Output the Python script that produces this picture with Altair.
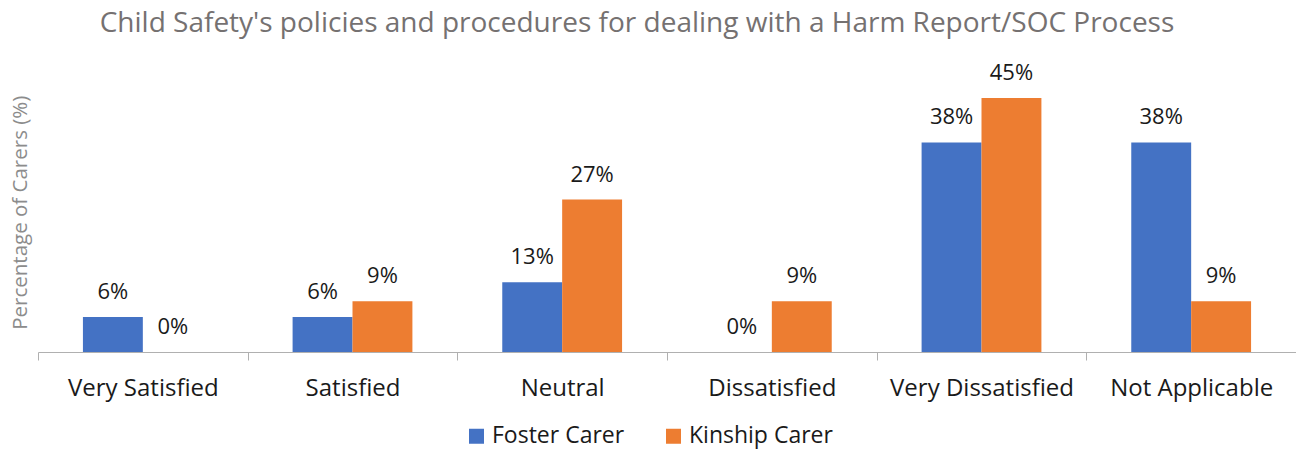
import altair as alt
import pandas as pd

categories = ["Very Satisfied", "Satisfied", "Neutral", "Dissatisfied",
              "Very Dissatisfied", "Not Applicable"]
series = ["Foster Carer", "Kinship Carer"]
foster = [6.25, 6.25, 12.5, 0.0, 37.5, 37.5]
kinship = [0.0, 9.09, 27.27, 9.09, 45.45, 9.09]
foster_labels = ["6%", "6%", "13%", "0%", "38%", "38%"]
kinship_labels = ["0%", "9%", "27%", "9%", "45%", "9%"]
colors = ["#4472C4", "#ED7D31"]

rows = []
for c, v, l in zip(categories, foster, foster_labels):
    rows.append({"category": c, "series": series[0], "value": v, "label": l})
for c, v, l in zip(categories, kinship, kinship_labels):
    rows.append({"category": c, "series": series[1], "value": v, "label": l})
df = pd.DataFrame(rows)

FONT = "Open Sans"

x_enc = alt.X(
    "category:N", sort=categories,
    scale=alt.Scale(paddingInner=0, paddingOuter=0),
    axis=alt.Axis(title=None, labelAngle=0, labelFontSize=24, labelFont=FONT,
                  labelColor="#1a1a1a", domainColor="#B0B0B0", tickColor="#B0B0B0",
                  tickSize=8, tickBand="extent", labelPadding=16, grid=False,
                  labelLimit=400),
)
xo_enc = alt.XOffset("series:N", sort=series,
                     scale=alt.Scale(paddingInner=0, paddingOuter=0.75))
y_enc = alt.Y(
    "value:Q", scale=alt.Scale(domain=[0, 50]),
    axis=alt.Axis(title="Percentage of Carers (%)", labels=False, ticks=False,
                  domain=False, grid=False, titleFontSize=20.5, titleFont=FONT,
                  titleColor="#8c8c8c", titleFontWeight="normal", titlePadding=8),
)

base = alt.Chart(df)
bars = base.mark_bar().encode(
    x=x_enc, xOffset=xo_enc, y=y_enc,
    color=alt.Color("series:N", sort=series,
                    scale=alt.Scale(domain=series, range=colors),
                    legend=alt.Legend(title=None, orient="none", direction="horizontal",
                                      legendX=427, legendY=352,
                                      symbolType="square", symbolSize=225,
                                      symbolStrokeWidth=0, labelFontSize=23,
                                      labelFont=FONT, labelColor="#1a1a1a",
                                      labelOffset=4, columnPadding=37)),
)
text = base.mark_text(dy=-18, baseline="alphabetic", fontSize=22, font=FONT,
                      color="#1a1a1a").encode(
    x=x_enc, xOffset=xo_enc, y=y_enc, text="label:N")

chart = alt.layer(bars, text).properties(
    width=1258, height=279.5,
    autosize="none",
    padding={"left": 30, "top": 64.5, "right": 0, "bottom": 97},
    title=alt.Title("Child Safety's policies and procedures for dealing with a Harm Report/SOC Process",
                    font=FONT, fontSize=28, fontWeight="normal", color="#757171",
                    anchor="middle", offset=24, dx=-30),
).configure_view(stroke=None)

chart.save("out.html", embed_options={"renderer": "svg", "actions": False})
